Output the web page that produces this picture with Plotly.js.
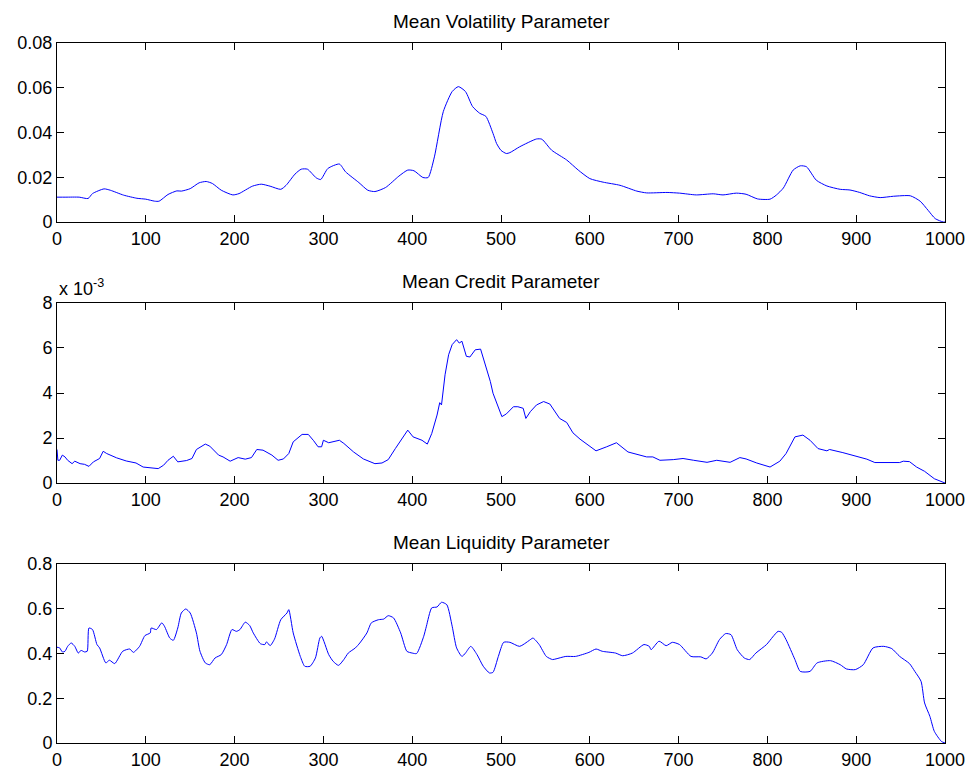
<!DOCTYPE html>
<html>
<head>
<meta charset="utf-8">
<script src="https://cdn.plot.ly/plotly-3.0.1.min.js"></script>
<style>
  html, body { margin: 0; padding: 0; background: #ffffff; }
  #chart { width: 970px; height: 772px; }
</style>
</head>
<body>
<div id="chart"></div>
<script>
// Mean volatility parameter over the sample index
const volX = [0, 10, 25, 35, 40, 53, 60, 75, 90, 100, 110, 115, 125, 135, 140, 150, 160, 168, 175, 185,
  198, 205, 220, 230, 240, 252, 258, 268, 275, 282, 292, 297, 305, 318, 325, 340, 350, 358, 370, 385,
  395, 402, 412, 418, 425, 435, 445, 452, 460, 468, 476, 483, 491, 495, 500, 506, 510, 521, 540, 546,
  557, 574, 587, 600, 615, 634, 653, 664, 687, 701, 720, 739, 750, 765, 776, 789, 803, 810, 818, 829,
  837, 844, 855, 867, 882, 893, 904, 915, 927, 942, 961, 972, 981, 989, 998, 1000];
const volY = [0.0111, 0.0111, 0.0111, 0.0105, 0.0127, 0.0148, 0.0142, 0.0120, 0.0106, 0.0102, 0.0093, 0.0093,
  0.0123, 0.0139, 0.0138, 0.0149, 0.0175, 0.0181, 0.0172, 0.0142, 0.0121, 0.0127, 0.0160, 0.0169, 0.0160,
  0.0146, 0.0164, 0.0214, 0.0236, 0.0236, 0.0197, 0.0190, 0.0239, 0.0259, 0.0224, 0.0176, 0.0142, 0.0136,
  0.0154, 0.0205, 0.0232, 0.0229, 0.0199, 0.0199, 0.0291, 0.0493, 0.0583, 0.0605, 0.0583, 0.0516, 0.0486,
  0.0472, 0.0396, 0.0351, 0.0320, 0.0306, 0.0310, 0.0336, 0.0371, 0.0370, 0.0321, 0.0277, 0.0232, 0.0194,
  0.0178, 0.0164, 0.0138, 0.0130, 0.0132, 0.0129, 0.0121, 0.0126, 0.0121, 0.0129, 0.0124, 0.0103, 0.0102,
  0.0120, 0.0152, 0.0232, 0.0251, 0.0247, 0.0187, 0.0161, 0.0146, 0.0143, 0.0132, 0.0117, 0.0109, 0.0115,
  0.0117, 0.0093, 0.0052, 0.0015, 0.0000, 0.0000];

// Mean credit parameter, in units of 10^-3
const creditX = [0, 1, 3, 6, 9, 12, 17, 20, 26, 31, 36, 41, 48, 52, 56, 67, 78, 89, 97, 108,
  114, 120, 125, 131, 136, 146, 152, 157, 167, 172, 182, 187, 195, 204, 212, 219, 225, 232, 242, 249,
  255, 261, 266, 276, 283, 289, 294, 298, 300, 306, 311, 318, 323, 334, 345, 358, 366, 373, 381, 388,
  395, 401, 411, 417, 422, 428, 431, 433, 437, 441, 445, 450, 453, 456, 461, 465, 471, 477, 482, 488,
  491, 497, 501, 506, 514, 519, 525, 528, 533, 540, 548, 555, 566, 574, 581, 589, 600, 607, 619, 630,
  643, 656, 664, 671, 679, 694, 705, 717, 732, 743, 758, 769, 776, 788, 803, 814, 821, 831, 840, 848,
  857, 867, 870, 885, 900, 912, 921, 934, 949, 953, 960, 968, 977, 988, 998, 1000];
const creditMilli = [1.49, 1.01, 1.01, 1.24, 1.16, 1.01, 0.86, 0.97, 0.86, 0.83, 0.74, 0.94, 1.09, 1.41, 1.31,
  1.12, 0.98, 0.89, 0.71, 0.68, 0.64, 0.79, 1.01, 1.19, 0.94, 1.00, 1.09, 1.49, 1.73, 1.64, 1.24, 1.16,
  0.97, 1.13, 1.06, 1.13, 1.49, 1.46, 1.24, 1.01, 1.07, 1.31, 1.83, 2.16, 2.16, 1.88, 1.61, 1.61, 1.90,
  1.79, 1.83, 1.90, 1.76, 1.38, 1.07, 0.86, 0.89, 1.04, 1.53, 1.95, 2.35, 2.05, 1.90, 1.73, 2.20, 3.02,
  3.57, 3.47, 4.81, 5.70, 6.15, 6.37, 6.22, 6.30, 5.63, 5.60, 5.92, 5.95, 5.30, 4.51, 3.99, 3.39, 2.95,
  3.07, 3.39, 3.39, 3.32, 2.87, 3.17, 3.47, 3.62, 3.51, 2.87, 2.69, 2.23, 1.95, 1.65, 1.43, 1.61, 1.79,
  1.38, 1.24, 1.16, 1.16, 1.01, 1.04, 1.09, 1.01, 0.92, 1.01, 0.92, 1.13, 1.07, 0.89, 0.71, 0.97, 1.31,
  2.05, 2.13, 1.90, 1.53, 1.43, 1.49, 1.35, 1.19, 1.06, 0.91, 0.91, 0.91, 0.97, 0.95, 0.71, 0.52, 0.19,
  0.03, 0.00];

// Mean liquidity parameter
const liqX = [0, 3, 6, 9, 12, 16, 20, 24, 27, 31, 34, 36, 40, 45, 48, 55, 59, 65, 74, 82,
  86, 93, 99, 105, 106, 112, 118, 121, 127, 131, 136, 140, 145, 150, 157, 161, 167, 172, 178, 185,
  191, 197, 202, 206, 212, 217, 221, 229, 234, 236, 240, 245, 252, 259, 261, 266, 274, 279, 285, 291,
  296, 298, 306, 311, 317, 323, 328, 336, 341, 349, 354, 362, 368, 373, 379, 387, 394, 400, 405, 413,
  416, 422, 428, 433, 439, 445, 450, 456, 460, 466, 473, 480, 487, 491, 497, 503, 510, 521, 532, 536,
  543, 551, 558, 562, 573, 584, 599, 607, 614, 629, 637, 648, 661, 667, 669, 678, 686, 693, 701, 714,
  725, 731, 738, 746, 753, 759, 766, 774, 780, 787, 799, 806, 812, 816, 821, 831, 837, 848, 856, 871,
  882, 889, 899, 908, 919, 931, 940, 949, 960, 966, 973, 977, 983, 988, 996, 1000];
const liqY = [0.428, 0.425, 0.407, 0.410, 0.432, 0.447, 0.432, 0.402, 0.414, 0.407, 0.410, 0.514, 0.507,
  0.440, 0.425, 0.358, 0.370, 0.355, 0.410, 0.420, 0.405, 0.432, 0.480, 0.492, 0.514, 0.507, 0.537, 0.522,
  0.469, 0.459, 0.514, 0.581, 0.599, 0.581, 0.492, 0.410, 0.358, 0.350, 0.380, 0.395, 0.440, 0.507, 0.499,
  0.507, 0.540, 0.525, 0.492, 0.444, 0.440, 0.452, 0.435, 0.465, 0.551, 0.581, 0.596, 0.492, 0.387, 0.343,
  0.343, 0.380, 0.469, 0.477, 0.395, 0.365, 0.347, 0.373, 0.402, 0.425, 0.447, 0.492, 0.537, 0.551, 0.554,
  0.569, 0.559, 0.492, 0.410, 0.402, 0.400, 0.477, 0.522, 0.604, 0.608, 0.629, 0.618, 0.522, 0.425, 0.387,
  0.402, 0.432, 0.395, 0.343, 0.313, 0.316, 0.387, 0.450, 0.450, 0.432, 0.459, 0.469, 0.440, 0.387, 0.373,
  0.376, 0.387, 0.387, 0.405, 0.420, 0.410, 0.402, 0.390, 0.402, 0.440, 0.432, 0.417, 0.455, 0.435, 0.450,
  0.440, 0.387, 0.385, 0.376, 0.402, 0.462, 0.489, 0.484, 0.417, 0.380, 0.373, 0.402, 0.440, 0.474, 0.499,
  0.495, 0.462, 0.373, 0.320, 0.320, 0.358, 0.368, 0.350, 0.331, 0.328, 0.350, 0.425, 0.432, 0.422, 0.387,
  0.355, 0.320, 0.276, 0.179, 0.119, 0.052, 0.007, 0.000];

const panelTitles = ['Mean Volatility Parameter', 'Mean Credit Parameter', 'Mean Liquidity Parameter'];
const xTicks = [0, 100, 200, 300, 400, 500, 600, 700, 800, 900, 1000];

const FONT = 'Liberation Sans, Arial, Helvetica, sans-serif';
const smoothLine = { color: '#0000ff', width: 1, shape: 'spline', smoothing: 0.6 };
const plainLine = { color: '#0000ff', width: 1 };

const traces = [
  { x: volX, y: volY, xaxis: 'x', yaxis: 'y', type: 'scatter', mode: 'lines', line: smoothLine, hoverinfo: 'skip' },
  { x: creditX, y: creditMilli, xaxis: 'x2', yaxis: 'y2', type: 'scatter', mode: 'lines', line: plainLine, hoverinfo: 'skip' },
  { x: liqX, y: liqY, xaxis: 'x3', yaxis: 'y3', type: 'scatter', mode: 'lines', line: smoothLine, hoverinfo: 'skip' }
];

function xAxis(anchor) {
  return {
    anchor: anchor, domain: [0, 1], range: [0, 1000],
    tickmode: 'array', tickvals: xTicks,
    ticks: 'inside', ticklen: 7, tickcolor: '#000', tickwidth: 1,
    showline: true, linecolor: '#000', linewidth: 1, mirror: 'ticks',
    showgrid: false, zeroline: false, automargin: false,
    tickfont: { family: FONT, size: 18, color: '#000' }, fixedrange: true
  };
}
function yAxis(anchor, domain, range, dtick) {
  return {
    anchor: anchor, domain: domain, range: range,
    tickmode: 'linear', tick0: 0, dtick: dtick,
    ticks: 'inside', ticklen: 7, tickcolor: '#000', tickwidth: 1,
    showline: true, linecolor: '#000', linewidth: 1, mirror: 'ticks',
    showgrid: false, zeroline: false, automargin: false,
    tickfont: { family: FONT, size: 18, color: '#000' }, fixedrange: true
  };
}

const domains = [[0.7443, 1], [0.3714, 0.6286], [0, 0.2557]];
const yRefs = ['y domain', 'y2 domain', 'y3 domain'];
const xRefs = ['x domain', 'x2 domain', 'x3 domain'];

const annotations = panelTitles.map((t, i) => ({
  text: t, xref: xRefs[i], yref: yRefs[i], x: 0.5, y: 1,
  xanchor: 'center', yanchor: 'bottom', yshift: 9, showarrow: false,
  font: { family: FONT, size: 19, color: '#000' }
}));
annotations.push({
  text: 'x 10<sup>-3</sup>', xref: 'x2 domain', yref: 'y2 domain', x: 0, y: 1,
  xanchor: 'left', yanchor: 'bottom', yshift: 2, showarrow: false,
  font: { family: FONT, size: 18, color: '#000' }
});

const layout = {
  width: 970, height: 772,
  margin: { l: 57, r: 25, t: 43, b: 29 },
  paper_bgcolor: '#fff', plot_bgcolor: '#fff',
  showlegend: false,
  xaxis: xAxis('y'), yaxis: yAxis('x', domains[0], [0, 0.08], 0.02),
  xaxis2: xAxis('y2'), yaxis2: yAxis('x2', domains[1], [0, 8], 2),
  xaxis3: xAxis('y3'), yaxis3: yAxis('x3', domains[2], [0, 0.8], 0.2),
  annotations: annotations
};

Plotly.newPlot('chart', traces, layout, { staticPlot: true, displayModeBar: false });
</script>
</body>
</html>
